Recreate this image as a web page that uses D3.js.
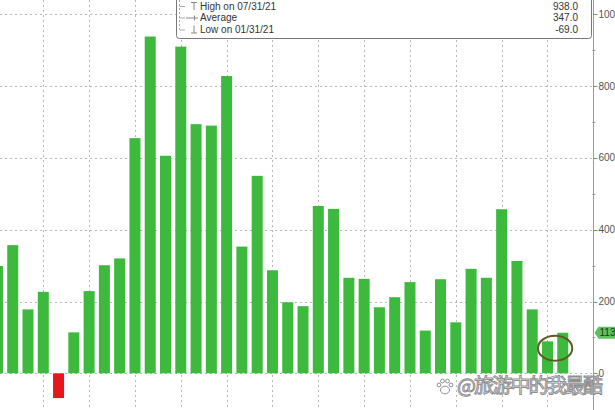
<!DOCTYPE html>
<html>
<head>
<meta charset="utf-8">
<script src="https://cdn.jsdelivr.net/npm/d3@7"></script>
<style>
  body { margin: 0; background: #fff; }
  svg { display: block; }
</style>
</head>
<body>
<div class="chart"></div>
<script>
var svgWidth = 615;
var svgHeight = 410;

// monthly values, Sep 2020 .. Oct 2023
var months = ['2020-09','2020-10','2020-11','2020-12','2021-01','2021-02','2021-03','2021-04',
  '2021-05','2021-06','2021-07','2021-08','2021-09','2021-10','2021-11','2021-12',
  '2022-01','2022-02','2022-03','2022-04','2022-05','2022-06','2022-07','2022-08',
  '2022-09','2022-10','2022-11','2022-12','2023-01','2023-02','2023-03','2023-04',
  '2023-05','2023-06','2023-07','2023-08','2023-09','2023-10'];
var values = [299, 357, 178, 227, -69, 114, 229, 301,
  320, 655, 938, 606, 910, 694, 690, 828,
  353, 550, 287, 198, 187, 466, 458, 266,
  263, 184, 212, 254, 119, 262, 142, 291,
  266, 457, 313, 178, 89, 113];

var yTicks = [0, 200, 400, 600, 800, 1000];
var yMinorTicks = [100, 300, 500, 700, 900];

var legendLabels = ['High on 07/31/21', 'Average', 'Low on 01/31/21'];
var legendValues = ['938.0', '347.0', '-69.0'];
var lastLabel = '113';
var watermark = '@旅游中的我最酷';

var axisX = 593.5;
var font = 'Liberation Sans, Arial, sans-serif';

var svg = d3
  .select('.chart')
  .append('svg')
  .attr('width', svgWidth)
  .attr('height', svgHeight);

var xScale = d3.scaleBand()
  .domain(months)
  .range([-10.2, 570.4])
  .paddingInner(0.28)
  .paddingOuter(0.14);

var yScale = d3.scaleLinear().domain([0, 1000]).range([373.3, 14.3]);

var grid = svg.append('g').attr('class', 'grid');

// horizontal dotted gridlines
grid.selectAll('line.h')
  .data(yTicks)
  .enter()
  .append('line')
  .attr('x1', 0)
  .attr('x2', axisX)
  .attr('y1', function(d) { return Math.round(yScale(d)) + 0.5; })
  .attr('y2', function(d) { return Math.round(yScale(d)) + 0.5; })
  .attr('stroke', '#b8b8b8')
  .attr('stroke-dasharray', '2,3');

// vertical dotted gridlines at quarter ends (Mar, Jun, Sep, Dec)
var quarterMonths = months.filter(function(m) { return (+m.slice(5) % 3) === 0; });
grid.selectAll('line.v')
  .data(quarterMonths)
  .enter()
  .append('line')
  .attr('x1', function(d) { return Math.round(xScale(d) + xScale.bandwidth() / 2) + 0.5; })
  .attr('x2', function(d) { return Math.round(xScale(d) + xScale.bandwidth() / 2) + 0.5; })
  .attr('y1', 0)
  .attr('y2', svgHeight)
  .attr('stroke', '#b8b8b8')
  .attr('stroke-dasharray', '2,3');

// bars
svg.append('g')
  .selectAll('rect')
  .data(values)
  .enter()
  .append('rect')
  .attr('x', function(d, i) { return xScale(months[i]); })
  .attr('width', xScale.bandwidth())
  .attr('y', function(d) { return yScale(Math.max(0, d)); })
  .attr('height', function(d) { return Math.abs(yScale(d) - yScale(0)); })
  .attr('fill', function(d) { return d < 0 ? '#e5171c' : '#3dba3d'; });

// right axis
var axis = svg.append('g');
axis.append('line')
  .attr('x1', axisX).attr('x2', axisX)
  .attr('y1', 0).attr('y2', svgHeight)
  .attr('stroke', '#9a9a9a');

axis.selectAll('line.major')
  .data(yTicks)
  .enter()
  .append('line')
  .attr('x1', axisX).attr('x2', axisX + 4)
  .attr('y1', function(d) { return Math.round(yScale(d)) + 0.5; })
  .attr('y2', function(d) { return Math.round(yScale(d)) + 0.5; })
  .attr('stroke', '#6c9a6c');

axis.selectAll('line.minor')
  .data(yMinorTicks)
  .enter()
  .append('line')
  .attr('x1', axisX - 1).attr('x2', axisX + 2)
  .attr('y1', function(d) { return Math.round(yScale(d)) + 0.5; })
  .attr('y2', function(d) { return Math.round(yScale(d)) + 0.5; })
  .attr('stroke', '#9a9a9a');

axis.selectAll('text')
  .data(yTicks)
  .enter()
  .append('text')
  .attr('x', axisX + 5)
  .attr('y', function(d) { return yScale(d) + 3.5; })
  .attr('font-family', font)
  .attr('font-size', 10)
  .attr('fill', '#555')
  .text(function(d) { return d; });

// last value tag
var lastY = yScale(values[values.length - 1]);
axis.append('path')
  .attr('d', 'M' + (axisX + 1) + ',' + lastY +
    'L' + (axisX + 5) + ',' + (lastY - 6) +
    'L' + (svgWidth + 5) + ',' + (lastY - 6) +
    'L' + (svgWidth + 5) + ',' + (lastY + 6) +
    'L' + (axisX + 5) + ',' + (lastY + 6) + 'Z')
  .attr('fill', '#5cc25c');
axis.append('text')
  .attr('x', axisX + 6)
  .attr('y', lastY + 3.5)
  .attr('font-family', font)
  .attr('font-size', 10)
  .attr('fill', '#1e3a1e')
  .text(lastLabel);

// ellipse annotation around the last two bars
var xa = xScale(months[36]);
var xb = xScale(months[37]) + xScale.bandwidth();
svg.append('ellipse')
  .attr('cx', (xa + xb) / 2)
  .attr('cy', yScale(70))
  .attr('rx', (xb - xa) / 2 + 4)
  .attr('ry', 12.5)
  .attr('fill', 'none')
  .attr('stroke', '#5e5a22')
  .attr('stroke-width', 2);

// legend box
var legend = svg.append('g');
legend.append('rect')
  .attr('x', 176.5).attr('y', -10)
  .attr('width', 415).attr('height', 48.5)
  .attr('rx', 3)
  .attr('fill', '#fff')
  .attr('stroke', '#777');

var rowY = [6, 17.5, 29.5];
legend.append('line')
  .attr('x1', 179.5).attr('x2', 179.5)
  .attr('y1', 0).attr('y2', rowY[2])
  .attr('stroke', '#aaa')
  .attr('stroke-dasharray', '2,2');
rowY.forEach(function(y, i) {
  legend.append('line')
    .attr('x1', 179.5).attr('x2', 185)
    .attr('y1', y + 0.5).attr('y2', y + 0.5)
    .attr('stroke', '#aaa');
  var g = legend.append('g').attr('stroke', '#888').attr('fill', 'none');
  if (i === 0) {
    g.append('line').attr('x1', 191).attr('x2', 197).attr('y1', y - 3.5).attr('y2', y - 3.5);
    g.append('line').attr('x1', 194).attr('x2', 194).attr('y1', y - 3.5).attr('y2', y + 4);
  } else if (i === 1) {
    g.append('line').attr('x1', 186).attr('x2', 198).attr('y1', y + 0.5).attr('y2', y + 0.5);
    g.append('line').attr('x1', 194.5).attr('x2', 194.5).attr('y1', y - 2).attr('y2', y + 3);
  } else {
    g.append('line').attr('x1', 191).attr('x2', 197).attr('y1', y + 3.5).attr('y2', y + 3.5);
    g.append('line').attr('x1', 194).attr('x2', 194).attr('y1', y - 4).attr('y2', y + 3.5);
  }
  legend.append('text')
    .attr('x', 200)
    .attr('y', y + 3.5)
    .attr('font-family', font)
    .attr('font-size', 10)
    .attr('fill', '#333')
    .text(legendLabels[i]);
  legend.append('text')
    .attr('x', 578)
    .attr('y', y + 3.5)
    .attr('text-anchor', 'end')
    .attr('font-family', font)
    .attr('font-size', 10)
    .attr('fill', '#333')
    .text(legendValues[i]);
});

// watermark with a paw icon
var wm = svg.append('g')
  .attr('fill', '#fff')
  .attr('stroke', '#8f8f8f')
  .attr('stroke-width', 1);
var paw = wm.append('g').attr('transform', 'translate(445,387)');
paw.append('ellipse').attr('cx', 0).attr('cy', 3).attr('rx', 4.5).attr('ry', 3.8);
[[-6, -2], [-2.5, -6], [2.5, -6], [6, -2]].forEach(function(p) {
  paw.append('circle').attr('cx', p[0]).attr('cy', p[1]).attr('r', 1.9);
});
wm.append('text')
  .attr('x', 457)
  .attr('y', 393)
  .attr('font-family', 'Noto Sans CJK SC, sans-serif')
  .attr('font-size', 20)
  .attr('textLength', 146)
  .text(watermark);
</script>
</body>
</html>
